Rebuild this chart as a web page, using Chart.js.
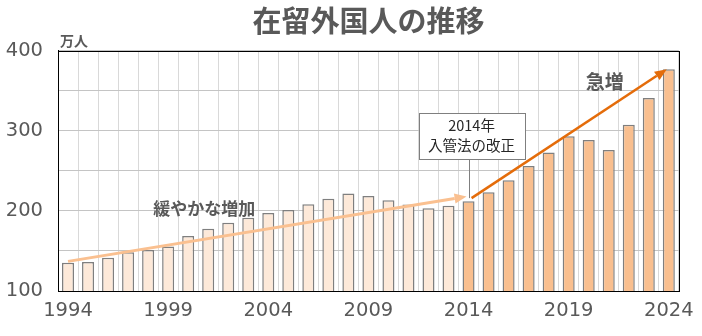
<!DOCTYPE html>
<html>
<head>
<meta charset="utf-8">
<script src="https://cdn.jsdelivr.net/npm/chart.js@4/dist/chart.umd.min.js"></script>
<style>
html,body{margin:0;padding:0;background:#fff;}
#wrap{width:702px;height:336px;position:relative;}
</style>
</head>
<body>
<div id="wrap"><canvas id="c" width="702" height="336"></canvas></div>
<script>
// ---- data ----
const years = [1994,1995,1996,1997,1998,1999,2000,2001,2002,2003,2004,2005,2006,2007,2008,2009,2010,2011,2012,2013,2014,2015,2016,2017,2018,2019,2020,2021,2022,2023,2024];
const residents = [135.4,136.2,141.5,148.3,151.2,155.6,168.6,177.8,185.2,191.5,197.4,201.2,208.5,215.3,221.7,218.6,213.4,207.9,203.4,206.6,212.2,223.2,238.3,256.2,273.1,293.3,288.7,276.1,307.5,341.1,376.9];
const yTickLabels = [100,200,300,400];
const xTickYears = [1994,1999,2004,2009,2014,2019,2024];
const reformYear = 2014;
const titleText = '在留外国人の推移';
const unitText = '万人';
const slowText = '緩やかな増加';
const rapidText = '急増';
const boxLines = ['2014年','入管法の改正'];
// annotation anchors in data units [year, value]
const slowArrow = [[1994, 137], [2013.9, 218]];
const rapidArrow = [[2014.15, 216], [2023.9, 377]];
const slowLabelAt = [2000.8, 202.5];
const rapidLabelAt = [2020.8, 361];
const boxAt = [2014.15, 294];   // centre of note box
const boxLineEnd = [2014, 216];

const CJK = '"Noto Sans CJK JP", "Noto Sans", sans-serif';
const NUM = '"DejaVu Sans", sans-serif';

const annot = {
  id: 'annot',
  afterDatasetsDraw(chart) {
    const ctx = chart.ctx, xs = chart.scales.x, ys = chart.scales.y, ca = chart.chartArea;
    const p0 = xs.getPixelForValue(0), p1 = xs.getPixelForValue(1);
    const X = yr => p0 + (yr - years[0]) * (p1 - p0);
    const Y = v => ys.getPixelForValue(v);
    ctx.save();
    // frame
    ctx.strokeStyle = '#000'; ctx.lineWidth = 1;
    ctx.strokeRect(Math.round(ca.left)+0.5, Math.round(ca.top)+0.5, Math.round(ca.right-ca.left), Math.round(ca.bottom-ca.top));
    // arrows
    function arrow(a, b, color, w, hl, hw) {
      const x1 = X(a[0]), y1 = Y(a[1]), x2 = X(b[0]), y2 = Y(b[1]);
      const ang = Math.atan2(y2-y1, x2-x1);
      const bx = x2 - hl*Math.cos(ang), by = y2 - hl*Math.sin(ang);
      ctx.strokeStyle = color; ctx.fillStyle = color; ctx.lineWidth = w; ctx.lineCap = 'butt';
      ctx.beginPath(); ctx.moveTo(x1,y1); ctx.lineTo(bx,by); ctx.stroke();
      ctx.beginPath();
      ctx.moveTo(x2,y2);
      ctx.lineTo(bx + hw*Math.sin(ang), by - hw*Math.cos(ang));
      ctx.lineTo(bx - hw*Math.sin(ang), by + hw*Math.cos(ang));
      ctx.closePath(); ctx.fill();
    }
    arrow(slowArrow[0], slowArrow[1], '#FAC090', 3, 12, 5);
    arrow(rapidArrow[0], rapidArrow[1], '#E46C0A', 2.5, 12, 5);
    // note line
    const bxc = X(boxAt[0]), byc = Y(boxAt[1]);
    const bw = 106, bh = 46;
    ctx.strokeStyle = '#7f7f7f'; ctx.lineWidth = 1;
    ctx.beginPath();
    const lx = Math.round(X(boxLineEnd[0])) + 0.5;
    ctx.moveTo(lx, byc + bh/2); ctx.lineTo(lx, Y(boxLineEnd[1])); ctx.stroke();
    // note box
    const bl = Math.round(bxc - bw/2) + 0.5, bt = Math.round(byc - bh/2) + 0.5;
    ctx.fillStyle = '#fff'; ctx.fillRect(bl, bt, bw, bh);
    ctx.strokeRect(bl, bt, bw, bh);
    ctx.fillStyle = '#262626'; ctx.textAlign = 'center'; ctx.textBaseline = 'middle';
    ctx.font = '14.5px ' + CJK;
    ctx.fillText(boxLines[0], bxc, byc - 10);
    ctx.fillText(boxLines[1], bxc, byc + 10);
    // labels
    ctx.fillStyle = '#595959';
    ctx.font = 'bold 17px ' + CJK;
    ctx.fillText(slowText, X(slowLabelAt[0]), Y(slowLabelAt[1]));
    ctx.font = 'bold 19px ' + CJK;
    ctx.fillText(rapidText, X(rapidLabelAt[0]), Y(rapidLabelAt[1]));
    // unit
    ctx.font = 'bold 14px ' + CJK;
    ctx.textAlign = 'left';
    ctx.fillText(unitText, ca.left + 2, ca.top - 10);
    ctx.restore();
  }
};

new Chart(document.getElementById('c'), {
  type: 'bar',
  data: {
    labels: years.map(String),
    datasets: [{
      data: residents,
      backgroundColor: years.map(y => y < reformYear ? '#FDE9D9' : '#F9BF8F'),
      borderColor: '#7f7f7f',
      borderWidth: 1.5,
      barPercentage: 0.6,
      categoryPercentage: 1.0
    }]
  },
  options: {
    responsive: false,
    animation: false,
    devicePixelRatio: 1,
    layout: { padding: { left: 0, right: 18, top: 0, bottom: 0 } },
    plugins: {
      legend: { display: false },
      tooltip: { enabled: false },
      title: {
        display: true,
        text: titleText,
        fullSize: false,
        color: '#595959',
        font: { family: CJK, size: 29, weight: 'bold' },
        padding: { top: 4, bottom: 12 }
      }
    },
    scales: {
      x: {
        grid: { color: '#d9d9d9', drawTicks: false, offset: true },
        border: { color: '#000', width: 1 },
        ticks: {
          autoSkip: false, maxRotation: 0, padding: 8,
          color: '#595959', font: { family: NUM, size: 19.5 },
          callback: (v, i) => xTickYears.includes(years[i]) ? String(years[i]) : ''
        },
        afterFit: s => { s.height = 45; }
      },
      y: {
        min: 100, max: 400,
        grid: { color: '#c4c4c4', drawTicks: false },
        border: { color: '#000', width: 1 },
        ticks: {
          stepSize: 50, padding: 15,
          color: '#595959', font: { family: NUM, size: 19.5 },
          callback: v => yTickLabels.includes(v) ? String(v) : ''
        },
        afterFit: s => { s.width = 58; }
      }
    }
  },
  plugins: [annot]
});
</script>
</body>
</html>
